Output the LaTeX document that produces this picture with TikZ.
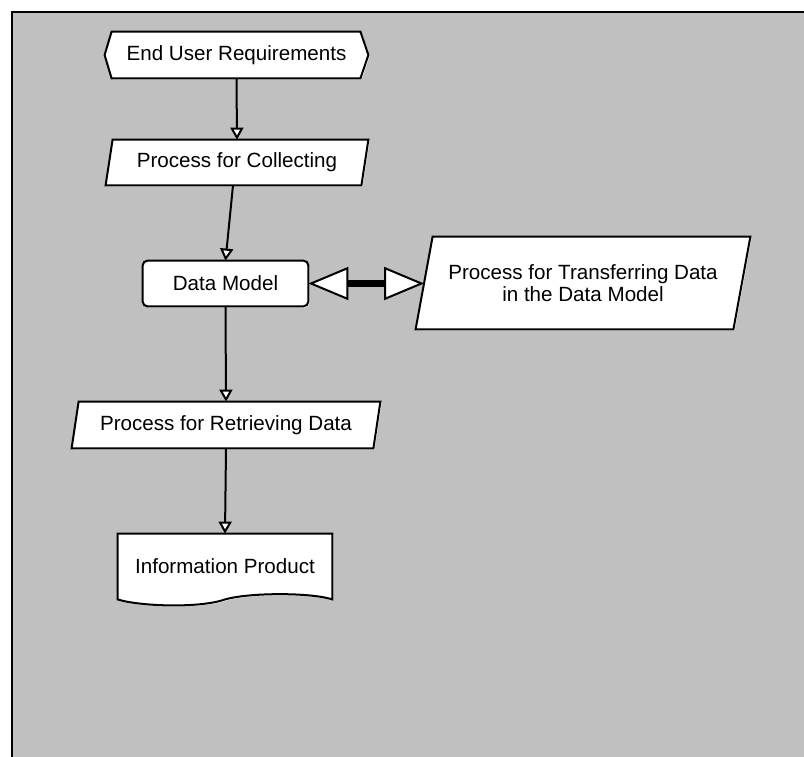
\documentclass[tikz,border=0pt]{standalone}
\usepackage{fontspec}
\setmainfont{Liberation Sans}
\usetikzlibrary{arrows.meta,calc,shadows}
\definecolor{bggray}{HTML}{C0C0C0}
\pgfdeclarelayer{back}
\pgfdeclarelayer{mid}
\pgfsetlayers{back,mid,main}
\begin{document}
\begin{tikzpicture}[x=0.5pt,y=-0.5pt,
  font=\fontsize{10.3pt}{11.2pt}\selectfont,
  box/.style={inner sep=0pt, align=center},
  shp/.style={draw=black, line width=1pt, fill=white, line join=miter,
    drop shadow={shadow xshift=0.6pt, shadow yshift=-0.6pt, fill=white, opacity=1}},
  conn/.style={draw=black, line width=1pt, -{Triangle[length=6pt,width=6.5pt,fill=white]}},
  dbl/.style={draw=black, line width=3.3pt,
    {Triangle[length=20pt,width=16.5pt,fill=white,line width=1pt]}-{Triangle[length=20pt,width=16.5pt,fill=white,line width=1pt]}}]

\useasboundingbox (0,0) rectangle (804,756);
\begin{pgfonlayer}{back}
  \clip (0,0) rectangle (804,756);
  \fill[bggray] (12,12) rectangle (830,780);
  \draw[line width=1.3pt] (12,790) -- (12,12) -- (830,12);
\end{pgfonlayer}

% nodes (text)
\node[box, minimum width=131.5pt, minimum height=23pt] (eu) at (236.5,55) {End User Requirements};
\node[box, minimum width=131pt, minimum height=22.5pt] (pc) at (237,162.5) {Process for Collecting};
\node[box, minimum width=82.5pt, minimum height=22.5pt] (dm) at (225.5,283.5) {Data Model};
\node[box, minimum width=167pt, minimum height=46pt] (tr) at (583,283) {Process for Transferring Data\\in the Data Model};
\node[box, minimum width=154pt, minimum height=23pt] (rd) at (226,425) {Process for Retrieving Data};
\node[box, minimum width=107pt, minimum height=32.5pt] (ip) at (225,566.5) {Information Product};
\coordinate (trw) at ($(tr.west)+(8.5,0)$);

% shapes
\begin{pgfonlayer}{mid}
  \draw[shp] ($(eu.north west)+(7,0)$) -- ($(eu.north east)+(-8,0)$) -- (eu.east)
    -- ($(eu.south east)+(-8,0)$) -- ($(eu.south west)+(7,0)$) -- (eu.west) -- cycle;
  \draw[shp] ($(pc.north west)+(7,0)$) -- (pc.north east) -- ($(pc.south east)+(-7,0)$) -- (pc.south west) -- cycle;
  \draw[shp, rounded corners=2.5pt] (dm.north west) rectangle (dm.south east);
  \draw[shp] ($(tr.north west)+(17,0)$) -- (tr.north east) -- ($(tr.south east)+(-17,0)$) -- (tr.south west) -- cycle;
  \draw[shp] ($(rd.north west)+(7,0)$) -- (rd.north east) -- ($(rd.south east)+(-7,0)$) -- (rd.south west) -- cycle;
  \draw[shp] (ip.south west) -- (ip.north west) -- (ip.north east) -- (ip.south east)
    .. controls +(-22,-7) and +(25,-7) .. (ip.south)
    .. controls +(-25,9) and +(22,7) .. (ip.south west) -- cycle;
\end{pgfonlayer}

% connectors
\draw[conn] (eu.south) -- (pc.north);
\draw[conn] ($(pc.south)+(-4,0)$) -- (dm.north);
\draw[dbl] (dm.east) -- (dm.east -| trw);
\draw[conn] (dm.south) -- (rd.north);
\draw[conn] (rd.south) -- (ip.north);
\end{tikzpicture}
\end{document}
